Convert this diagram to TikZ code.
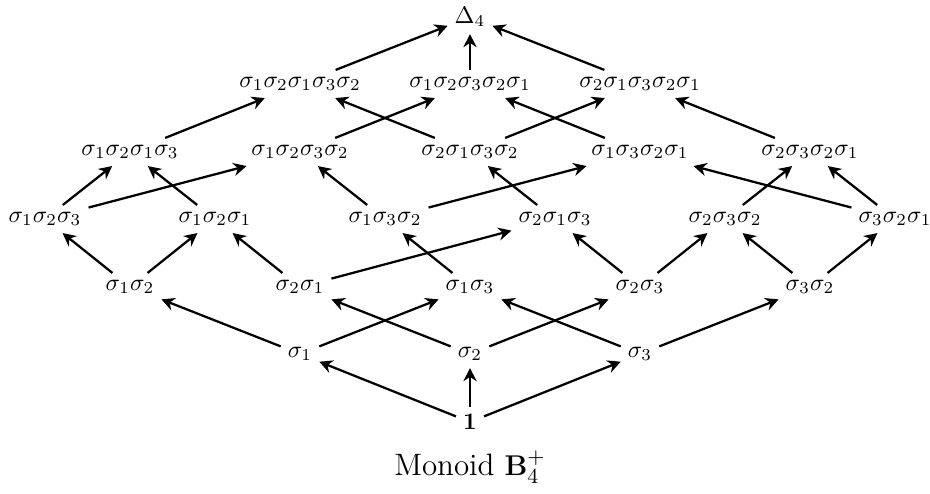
\documentclass[tikz,border=0pt]{standalone}
\usetikzlibrary{arrows.meta}
\begin{document}
\begin{tikzpicture}[x=0.42pt,y=-0.42pt,
  el/.style={inner sep=2.8pt},
  arr/.style={line width=0.95pt,-{Stealth[length=5.5pt,width=5.5pt,inset=1.8pt]}}]
\useasboundingbox (0,0) rectangle (930,494);
% top
\node[el] (D) at (470,17) {$\Delta_4$};
% row 5
\node[el] (r5a) at (300,84) {$\sigma_1\sigma_2\sigma_1\sigma_3\sigma_2$};
\node[el] (r5b) at (470,84) {$\sigma_1\sigma_2\sigma_3\sigma_2\sigma_1$};
\node[el] (r5c) at (640,84) {$\sigma_2\sigma_1\sigma_3\sigma_2\sigma_1$};
% row 4
\node[el] (r4a) at (130,152) {$\sigma_1\sigma_2\sigma_1\sigma_3$};
\node[el] (r4b) at (300,152) {$\sigma_1\sigma_2\sigma_3\sigma_2$};
\node[el] (r4c) at (470,152) {$\sigma_2\sigma_1\sigma_3\sigma_2$};
\node[el] (r4d) at (640,152) {$\sigma_1\sigma_3\sigma_2\sigma_1$};
\node[el] (r4e) at (810,152) {$\sigma_2\sigma_3\sigma_2\sigma_1$};
% row 3
\node[el] (r3a) at (45,219) {$\sigma_1\sigma_2\sigma_3$};
\node[el] (r3b) at (215,219) {$\sigma_1\sigma_2\sigma_1$};
\node[el] (r3c) at (385,219) {$\sigma_1\sigma_3\sigma_2$};
\node[el] (r3d) at (555,219) {$\sigma_2\sigma_1\sigma_3$};
\node[el] (r3e) at (725,219) {$\sigma_2\sigma_3\sigma_2$};
\node[el] (r3f) at (895,219) {$\sigma_3\sigma_2\sigma_1$};
% row 2
\node[el] (r2a) at (130,287) {$\sigma_1\sigma_2$};
\node[el] (r2b) at (300,287) {$\sigma_2\sigma_1$};
\node[el] (r2c) at (470,287) {$\sigma_1\sigma_3$};
\node[el] (r2d) at (640,287) {$\sigma_2\sigma_3$};
\node[el] (r2e) at (810,287) {$\sigma_3\sigma_2$};
% row 1
\node[el] (r1a) at (300,354) {$\sigma_1$};
\node[el] (r1b) at (470,354) {$\sigma_2$};
\node[el] (r1c) at (640,354) {$\sigma_3$};
% bottom
\node[el] (one) at (470,422) {$\mathbf{1}$};
\node (cap) at (470,467) {\fontsize{13}{15}\selectfont Monoid $\mathbf{B}_4^+$};
% edges
\foreach \a/\b in {one/r1a,one/r1b,one/r1c,
  r1a/r2a,r1a/r2c,r1b/r2b,r1b/r2d,r1c/r2c,r1c/r2e,
  r2a/r3a,r2a/r3b,r2b/r3b,r2b/r3d,r2c/r3c,r2d/r3d,r2d/r3e,r2e/r3e,r2e/r3f,
  r3a/r4a,r3a/r4b,r3b/r4a,r3c/r4b,r3c/r4d,r3d/r4c,r3e/r4e,r3f/r4d,r3f/r4e,
  r4a/r5a,r4b/r5b,r4c/r5a,r4c/r5c,r4d/r5b,r4e/r5c,
  r5a/D,r5b/D,r5c/D}
  \draw[arr] (\a) -- (\b);
\end{tikzpicture}
\end{document}
